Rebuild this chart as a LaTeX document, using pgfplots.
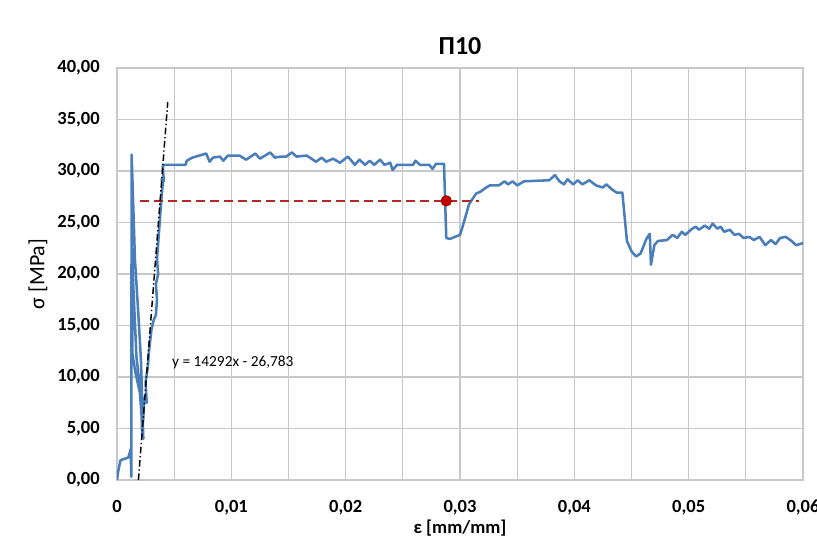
\documentclass[border=0pt]{standalone}
\usepackage{fontspec}
\setmainfont{Carlito}
\usepackage{pgfplots}
\pgfplotsset{compat=1.18}

\definecolor{clrCurve}{HTML}{4A7EBB}
\definecolor{clrLevel}{HTML}{B02828}
\definecolor{clrMark}{HTML}{C00000}
\definecolor{clrGrid}{HTML}{C8C8C8}

\newcommand{\tickfont}{\bfseries\fontsize{13.9pt}{16pt}\selectfont}

\begin{document}
\begin{tikzpicture}
\begin{axis}[
    at={(0,0)}, anchor=south west,
    scale only axis,
    width=514.5pt, height=309pt,
    xmin=0, xmax=0.06,
    ymin=0, ymax=40,
    xtick={0,0.01,0.02,0.03,0.04,0.05,0.06},
    minor xtick={0.005,0.015,0.025,0.035,0.045,0.055},
    ytick={0,5,10,15,20,25,30,35,40},
    scaled x ticks=false,
    grid=both,
    major grid style={clrGrid, line width=0.8pt},
    minor grid style={clrGrid, line width=0.8pt},
    axis line style={clrGrid, line width=0.8pt},
    major tick length=0pt, minor tick length=0pt,
    tick label style={font=\tickfont, text=black},
    xticklabel style={
        /pgf/number format/fixed,
        /pgf/number format/precision=2,
        /pgf/number format/use comma,
        /pgf/number format/assume math mode=true,
        anchor=base, inner sep=0pt, yshift=-24pt},
    yticklabel style={
        /pgf/number format/fixed,
        /pgf/number format/fixed zerofill,
        /pgf/number format/precision=2,
        /pgf/number format/use comma,
        /pgf/number format/assume math mode=true,
        anchor=east, inner sep=0pt, xshift=-12.75pt},
    title={П10},
    title style={font=\bfseries\fontsize{19.5pt}{22pt}\selectfont, at={(axis description cs:0.5,1)}, anchor=center, yshift=10.5pt},
    xlabel={ε [mm/mm]},
    xlabel style={font=\bfseries\fontsize{13.9pt}{16pt}\selectfont, at={(axis description cs:0.5,0)}, anchor=base, yshift=-40pt, inner sep=0pt},
    ylabel={σ [MPa]},
    ylabel style={font=\fontsize{16.5pt}{18pt}\selectfont, at={(axis description cs:-0.1152,0.5)}, anchor=center},
]
% measured curve
\addplot[clrCurve, line width=1.9pt, line join=round] coordinates {
    (0,0) (0.0001,0.8) (0.0003,1.9) (0.0005,2.0) (0.0008,2.1) (0.0010,2.2)
    (0.0011,2.6) (0.00120,3.0) (0.00125,0.3) (0.00128,31.6) (0.00157,21.4)
    (0.0019,15.5) (0.0021,11.5) (0.0023,4.0) (0.0020,8.5) (0.0016,10.5)
    (0.00135,12.3) (0.00132,22.5) (0.00138,20.0) (0.0017,12.0) (0.0021,8.0)
    (0.0022,4.5) (0.0023,6.0) (0.0024,8.0) (0.0026,7.5) (0.0025,9.5)
    (0.0027,11.0) (0.0028,12.5) (0.0030,14.5) (0.0032,15.5) (0.0034,16.0)
    (0.0035,17.5) (0.0034,19.0) (0.0036,20.0) (0.0035,21.5) (0.0036,23.0)
    (0.0037,24.5) (0.0038,26.0) (0.0039,27.5) (0.0040,28.8) (0.0039,29.2)
    (0.0041,29.0) (0.0040,30.5)
    (0.0042,30.6) (0.0060,30.6) (0.0061,31.0) (0.0066,31.3) (0.0075,31.6)
    (0.0078,31.7) (0.0081,30.9) (0.0084,31.3) (0.0090,31.4) (0.0093,31.0)
    (0.0097,31.5) (0.0107,31.5) (0.0113,31.1) (0.0121,31.7) (0.0125,31.2)
    (0.0134,31.8) (0.0138,31.3) (0.0143,31.4) (0.0148,31.4) (0.0153,31.8)
    (0.0157,31.4) (0.0166,31.5) (0.0174,30.9) (0.0179,31.3) (0.0183,30.9)
    (0.0189,31.2) (0.0195,30.8) (0.0202,31.4) (0.0208,30.6) (0.0212,31.1)
    (0.0217,30.6) (0.0221,31.0) (0.0225,30.6) (0.0230,31.1) (0.0234,30.6)
    (0.0239,30.8) (0.0241,30.1) (0.0245,30.6) (0.0259,30.6) (0.0261,31.0)
    (0.0265,30.6) (0.0273,30.6) (0.0276,30.2) (0.0279,30.7) (0.0286,30.7)
    (0.0288,23.5) (0.0291,23.4) (0.0300,23.8) (0.0302,24.5) (0.0308,26.8)
    (0.0314,27.8) (0.0318,28.0) (0.0323,28.4) (0.0326,28.6) (0.0334,28.6)
    (0.0339,29.0) (0.0342,28.7) (0.0346,29.0) (0.0350,28.6) (0.0356,29.0)
    (0.0378,29.1) (0.0383,29.6) (0.0387,29.0) (0.0391,28.7) (0.0394,29.2)
    (0.0399,28.7) (0.0403,29.1) (0.0407,28.7) (0.0413,29.1) (0.0419,28.6)
    (0.0425,28.4) (0.0428,28.7) (0.0433,28.2) (0.0437,27.9) (0.0442,27.9)
    (0.0446,23.2) (0.0450,22.2) (0.0454,21.7) (0.0458,22.0) (0.0463,23.4)
    (0.0466,23.9) (0.0467,20.9) (0.0470,22.8) (0.0473,23.2) (0.0481,23.3)
    (0.0486,23.8) (0.0490,23.5) (0.0494,24.1) (0.0497,23.8) (0.0502,24.3)
    (0.0506,24.6) (0.0509,24.3) (0.0514,24.7) (0.0518,24.4) (0.0521,24.9)
    (0.0525,24.4) (0.0528,24.6) (0.0531,24.1) (0.0536,24.3) (0.0540,23.8)
    (0.0544,23.9) (0.0548,23.5) (0.0553,23.6) (0.0557,23.3) (0.0562,23.6)
    (0.0567,22.8) (0.0572,23.3) (0.0576,22.9) (0.0580,23.5) (0.0585,23.6)
    (0.0590,23.2) (0.0594,22.8) (0.0600,23.0)
};
% stress level
\addplot[clrLevel, line width=1.9pt, dash pattern=on 6.5pt off 4pt] coordinates {
    (0.0020,27.1) (0.0317,27.1)
};
\addplot[only marks, mark=*, mark size=4pt, mark options={fill=clrMark, draw=clrMark!80!black}] coordinates {
    (0.0288,27.1)
};
% linear trendline
\addplot[black, line width=1.1pt, dash pattern=on 5pt off 2pt on 1pt off 2pt] coordinates {
    (0.001874,0) (0.00444,36.7)
};
\node[anchor=west, font=\fontsize{11.5pt}{13pt}\selectfont, inner sep=0pt] at (axis cs:0.0048,11.4) {y = 14292x - 26,783};
\end{axis}
\pgfresetboundingbox
\path[use as bounding box] (-87.75pt,-42pt) rectangle (525pt,360pt);
\end{tikzpicture}
\end{document}
